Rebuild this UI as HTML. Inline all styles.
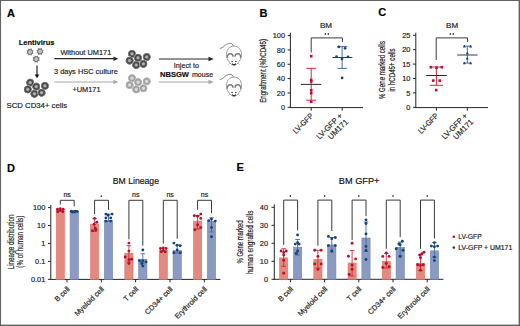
<!DOCTYPE html>
<html><head><meta charset="utf-8"><style>
html,body{margin:0;padding:0;background:#fff;}
svg{display:block;font-family:"Liberation Sans", sans-serif;}
text{stroke:currentColor;stroke-width:0.18px;paint-order:stroke;}
</style></head><body>
<svg width="520" height="326" viewBox="0 0 520 326">
<defs>
<radialGradient id="cd"><stop offset="0" stop-color="#c0c0c0"/><stop offset="0.26" stop-color="#a4a4a4"/><stop offset="0.44" stop-color="#585858"/><stop offset="0.6" stop-color="#424242"/><stop offset="0.74" stop-color="#6e6e6e"/><stop offset="0.88" stop-color="#979797"/><stop offset="1" stop-color="#fff" stop-opacity="0"/></radialGradient>
<radialGradient id="cl"><stop offset="0" stop-color="#e6e6e6"/><stop offset="0.28" stop-color="#d2d2d2"/><stop offset="0.45" stop-color="#a8a8a8"/><stop offset="0.6" stop-color="#9c9c9c"/><stop offset="0.74" stop-color="#b2b2b2"/><stop offset="0.88" stop-color="#c6c6c6"/><stop offset="1" stop-color="#fff" stop-opacity="0"/></radialGradient>
</defs>
<rect width="520" height="326" fill="#fff"/>
<rect x="0" y="0" width="520" height="1" fill="#636363"/>
<rect x="0" y="0" width="1.05" height="326" fill="#636363"/>
<rect x="518.6" y="0" width="1.4" height="326" fill="#636363"/>
<rect x="0" y="324.6" width="520" height="1.4" fill="#636363"/>
<text x="6.9" y="16.5" font-size="11" text-anchor="start" font-weight="bold" fill="#000" color="#000" >A</text>
<text x="259.5" y="16.6" font-size="11" text-anchor="start" font-weight="bold" fill="#000" color="#000" >B</text>
<text x="378.3" y="16.4" font-size="11" text-anchor="start" font-weight="bold" fill="#000" color="#000" >C</text>
<text x="7.1" y="171.7" font-size="11" text-anchor="start" font-weight="bold" fill="#000" color="#000" >D</text>
<text x="236.4" y="171" font-size="11" text-anchor="start" font-weight="bold" fill="#000" color="#000" >E</text>
<text x="18.7" y="44.6" font-size="7.4" font-weight="bold" fill="#111" color="#111" textLength="35.80" lengthAdjust="spacingAndGlyphs">Lentivirus</text>
<circle cx="32.86" cy="53.19" r="0.55" fill="#555"/>
<circle cx="31.19" cy="54.86" r="0.55" fill="#555"/>
<circle cx="28.81" cy="54.86" r="0.55" fill="#555"/>
<circle cx="27.14" cy="53.19" r="0.55" fill="#555"/>
<circle cx="27.14" cy="50.81" r="0.55" fill="#555"/>
<circle cx="28.81" cy="49.14" r="0.55" fill="#555"/>
<circle cx="31.19" cy="49.14" r="0.55" fill="#555"/>
<circle cx="32.86" cy="50.81" r="0.55" fill="#555"/>
<circle cx="30" cy="52" r="2.55" fill="#b0b0b0" stroke="#4a4a4a" stroke-width="0.7"/>
<line x1="28.9" y1="53.5" x2="30.5" y2="50.3" stroke="#dcdcdc" stroke-width="0.7"/>
<line x1="30.3" y1="53.6" x2="31.5" y2="51.1" stroke="#dcdcdc" stroke-width="0.6"/>
<circle cx="42.86" cy="52.69" r="0.55" fill="#555"/>
<circle cx="41.19" cy="54.36" r="0.55" fill="#555"/>
<circle cx="38.81" cy="54.36" r="0.55" fill="#555"/>
<circle cx="37.14" cy="52.69" r="0.55" fill="#555"/>
<circle cx="37.14" cy="50.31" r="0.55" fill="#555"/>
<circle cx="38.81" cy="48.64" r="0.55" fill="#555"/>
<circle cx="41.19" cy="48.64" r="0.55" fill="#555"/>
<circle cx="42.86" cy="50.31" r="0.55" fill="#555"/>
<circle cx="40" cy="51.5" r="2.55" fill="#b0b0b0" stroke="#4a4a4a" stroke-width="0.7"/>
<line x1="38.9" y1="53.0" x2="40.5" y2="49.8" stroke="#dcdcdc" stroke-width="0.7"/>
<line x1="40.3" y1="53.1" x2="41.5" y2="50.6" stroke="#dcdcdc" stroke-width="0.6"/>
<circle cx="39.06" cy="60.29" r="0.55" fill="#555"/>
<circle cx="37.39" cy="61.96" r="0.55" fill="#555"/>
<circle cx="35.01" cy="61.96" r="0.55" fill="#555"/>
<circle cx="33.34" cy="60.29" r="0.55" fill="#555"/>
<circle cx="33.34" cy="57.91" r="0.55" fill="#555"/>
<circle cx="35.01" cy="56.24" r="0.55" fill="#555"/>
<circle cx="37.39" cy="56.24" r="0.55" fill="#555"/>
<circle cx="39.06" cy="57.91" r="0.55" fill="#555"/>
<circle cx="36.2" cy="59.1" r="2.55" fill="#b0b0b0" stroke="#4a4a4a" stroke-width="0.7"/>
<line x1="35.1" y1="60.6" x2="36.7" y2="57.4" stroke="#dcdcdc" stroke-width="0.7"/>
<line x1="36.5" y1="60.7" x2="37.7" y2="58.2" stroke="#dcdcdc" stroke-width="0.6"/>
<line x1="37" y1="65.5" x2="37" y2="75.5" stroke="#111" stroke-width="1.1" />
<path d="M34.7,74.6 L39.3,74.6 L37,78.2 Z" fill="#111"/>
<circle cx="30.20" cy="82.60" r="4.5" fill="url(#cd)"/>
<circle cx="36.20" cy="86.60" r="4.5" fill="url(#cd)"/>
<circle cx="44.90" cy="85.80" r="4.5" fill="url(#cd)"/>
<circle cx="27.80" cy="89.40" r="4.5" fill="url(#cd)"/>
<circle cx="34.40" cy="93.80" r="4.5" fill="url(#cd)"/>
<circle cx="41.60" cy="92.70" r="4.5" fill="url(#cd)"/>
<circle cx="132.00" cy="53.80" r="4.5" fill="url(#cd)"/>
<circle cx="138.00" cy="57.80" r="4.5" fill="url(#cd)"/>
<circle cx="146.70" cy="57.00" r="4.5" fill="url(#cd)"/>
<circle cx="129.60" cy="60.60" r="4.5" fill="url(#cd)"/>
<circle cx="136.20" cy="65.00" r="4.5" fill="url(#cd)"/>
<circle cx="143.40" cy="63.90" r="4.5" fill="url(#cd)"/>
<circle cx="132.00" cy="78.20" r="4.5" fill="url(#cl)"/>
<circle cx="138.00" cy="82.20" r="4.5" fill="url(#cl)"/>
<circle cx="146.70" cy="81.40" r="4.5" fill="url(#cl)"/>
<circle cx="129.60" cy="85.00" r="4.5" fill="url(#cl)"/>
<circle cx="136.20" cy="89.40" r="4.5" fill="url(#cl)"/>
<circle cx="143.40" cy="88.30" r="4.5" fill="url(#cl)"/>
<line x1="54.3" y1="58.7" x2="114.5" y2="58.7" stroke="#262626" stroke-width="1.2" />
<path d="M113.5,56.5 L118.3,58.7 L113.5,60.9 Z" fill="#262626"/>
<line x1="54.3" y1="82" x2="114.5" y2="82" stroke="#a8a8a8" stroke-width="1.2" />
<path d="M113.5,79.8 L118.3,82 L113.5,84.2 Z" fill="#a8a8a8"/>
<text x="60.4" y="55.4" font-size="7.2" font-weight="normal" fill="#1e1e1e" color="#1e1e1e" textLength="50.90" lengthAdjust="spacingAndGlyphs">Without UM171</text>
<text x="54" y="73.8" font-size="7.2" font-weight="normal" fill="#1e1e1e" color="#1e1e1e" textLength="63.80" lengthAdjust="spacingAndGlyphs">3 days HSC culture</text>
<text x="72.4" y="91.7" font-size="7.2" font-weight="normal" fill="#1e1e1e" color="#1e1e1e" textLength="28.10" lengthAdjust="spacingAndGlyphs">+UM171</text>
<text x="6.5" y="108.1" font-size="7.2" font-weight="normal" fill="#1e1e1e" color="#1e1e1e" textLength="60.60" lengthAdjust="spacingAndGlyphs">SCD CD34+ cells</text>
<line x1="159" y1="59" x2="209.3" y2="59" stroke="#262626" stroke-width="1.2" />
<path d="M208.5,56.8 L213.8,59 L208.5,61.2 Z" fill="#262626"/>
<line x1="159" y1="82" x2="209.3" y2="82" stroke="#a8a8a8" stroke-width="1.2" />
<path d="M208.5,79.8 L213.8,82 L208.5,84.2 Z" fill="#a8a8a8"/>
<text x="173.8" y="67.8" font-size="7.2" font-weight="normal" fill="#1e1e1e" color="#1e1e1e" textLength="25.20" lengthAdjust="spacingAndGlyphs">Inject to</text>
<text x="160" y="76.9" font-size="7.2" font-weight="bold" fill="#111" color="#111" textLength="29.00" lengthAdjust="spacingAndGlyphs">NBSGW</text>
<text x="191.9" y="76.9" font-size="7.2" font-weight="normal" fill="#1e1e1e" color="#1e1e1e" textLength="21.20" lengthAdjust="spacingAndGlyphs">mouse</text>
<g transform="translate(0,0)" fill="none"><path d="M233.5,46.4 C233,44.2 231.5,43.2 229.8,43.3 C227.5,43.5 225.5,44.8 224,46.3 C222.8,47.5 221.3,48.4 219.7,48.4" stroke="#7c7c7c" stroke-width="0.9"/><path d="M234,46.1 C238.5,46.1 241.5,49.5 241.5,54.5 C241.5,57.5 240.6,59.5 239.2,61.3 C238,63.3 236.2,65.3 234,65.3 C231.8,65.3 230,63.3 228.8,61.3 C227.4,59.5 226.5,57.5 226.5,54.5 C226.5,49.5 229.5,46.1 234,46.1 Z" fill="#fff" stroke="#8a8a8a" stroke-width="0.85"/><path d="M227.3,57.8 C227.3,55.2 228.6,53.8 230.3,53.8 C232,53.8 233,55.2 233,56.8" stroke="#7a7a7a" stroke-width="1.4"/><path d="M240.7,57.8 C240.7,55.2 239.4,53.8 237.7,53.8 C236,53.8 235,55.2 235,56.8" stroke="#7a7a7a" stroke-width="1.4"/><circle cx="232.1" cy="61.4" r="0.75" fill="#333"/><circle cx="235.9" cy="61.4" r="0.75" fill="#333"/><path d="M232.2,63.6 Q234,65.8 235.8,63.6" stroke="#1a1a1a" stroke-width="1.1"/><path d="M230,63.2 L228.3,64.6 M238,63.2 L239.7,64.6" stroke="#9a9a9a" stroke-width="0.6"/></g>
<g transform="translate(0,31)" fill="none"><path d="M233.5,46.4 C233,44.2 231.5,43.2 229.8,43.3 C227.5,43.5 225.5,44.8 224,46.3 C222.8,47.5 221.3,48.4 219.7,48.4" stroke="#7c7c7c" stroke-width="0.9"/><path d="M234,46.1 C238.5,46.1 241.5,49.5 241.5,54.5 C241.5,57.5 240.6,59.5 239.2,61.3 C238,63.3 236.2,65.3 234,65.3 C231.8,65.3 230,63.3 228.8,61.3 C227.4,59.5 226.5,57.5 226.5,54.5 C226.5,49.5 229.5,46.1 234,46.1 Z" fill="#fff" stroke="#8a8a8a" stroke-width="0.85"/><path d="M227.3,57.8 C227.3,55.2 228.6,53.8 230.3,53.8 C232,53.8 233,55.2 233,56.8" stroke="#7a7a7a" stroke-width="1.4"/><path d="M240.7,57.8 C240.7,55.2 239.4,53.8 237.7,53.8 C236,53.8 235,55.2 235,56.8" stroke="#7a7a7a" stroke-width="1.4"/><circle cx="232.1" cy="61.4" r="0.75" fill="#333"/><circle cx="235.9" cy="61.4" r="0.75" fill="#333"/><path d="M232.2,63.6 Q234,65.8 235.8,63.6" stroke="#1a1a1a" stroke-width="1.1"/><path d="M230,63.2 L228.3,64.6 M238,63.2 L239.7,64.6" stroke="#9a9a9a" stroke-width="0.6"/></g>
<line x1="290.4" y1="32.6" x2="290.4" y2="108.1" stroke="#262626" stroke-width="1" />
<line x1="289.9" y1="107.6" x2="363" y2="107.6" stroke="#262626" stroke-width="1" />
<line x1="287.59999999999997" y1="107.3" x2="290.4" y2="107.3" stroke="#262626" stroke-width="1" />
<text x="285.0" y="109.89999999999999" font-size="7.4" text-anchor="end" font-weight="normal" fill="#1e1e1e" color="#1e1e1e" >0</text>
<line x1="287.59999999999997" y1="92.96" x2="290.4" y2="92.96" stroke="#262626" stroke-width="1" />
<text x="285.0" y="95.55999999999999" font-size="7.4" text-anchor="end" font-weight="normal" fill="#1e1e1e" color="#1e1e1e" >20</text>
<line x1="287.59999999999997" y1="78.62" x2="290.4" y2="78.62" stroke="#262626" stroke-width="1" />
<text x="285.0" y="81.22" font-size="7.4" text-anchor="end" font-weight="normal" fill="#1e1e1e" color="#1e1e1e" >40</text>
<line x1="287.59999999999997" y1="64.28" x2="290.4" y2="64.28" stroke="#262626" stroke-width="1" />
<text x="285.0" y="66.88" font-size="7.4" text-anchor="end" font-weight="normal" fill="#1e1e1e" color="#1e1e1e" >60</text>
<line x1="287.59999999999997" y1="49.94" x2="290.4" y2="49.94" stroke="#262626" stroke-width="1" />
<text x="285.0" y="52.54" font-size="7.4" text-anchor="end" font-weight="normal" fill="#1e1e1e" color="#1e1e1e" >80</text>
<line x1="287.59999999999997" y1="35.599999999999994" x2="290.4" y2="35.599999999999994" stroke="#262626" stroke-width="1" />
<text x="285.0" y="38.199999999999996" font-size="7.4" text-anchor="end" font-weight="normal" fill="#1e1e1e" color="#1e1e1e" >100</text>
<line x1="311.2" y1="107.6" x2="311.2" y2="110.7" stroke="#262626" stroke-width="1" />
<line x1="342.2" y1="107.6" x2="342.2" y2="110.7" stroke="#262626" stroke-width="1" />
<text transform="translate(266.3,102.8) rotate(-90)" font-size="8.3" fill="#1e1e1e" color="#1e1e1e" textLength="63.80" lengthAdjust="spacingAndGlyphs">Engraftment (%hCD45)</text>
<text x="319.9" y="28" font-size="7.3" font-weight="normal" fill="#1e1e1e" color="#1e1e1e" textLength="12.10" lengthAdjust="spacingAndGlyphs">BM</text>
<ellipse cx="325.4" cy="33.9" rx="0.8" ry="1.0" fill="#333"/><ellipse cx="328.3" cy="33.9" rx="0.8" ry="1.0" fill="#333"/>
<path d="M311.2,52.5 L311.2,37.9 L342.4,37.9 L342.4,42" fill="none" stroke="#3a3a3a" stroke-width="1"/>
<line x1="311.2" y1="68.3" x2="311.2" y2="100.2" stroke="#cf2a45" stroke-width="1" />
<line x1="306.2" y1="68.3" x2="316.1" y2="68.3" stroke="#cf2a45" stroke-width="1" />
<line x1="306.2" y1="100.2" x2="316.1" y2="100.2" stroke="#cf2a45" stroke-width="1" />
<rect x="309.90" y="54.90" width="2.6" height="2.6" fill="#bb0f2d"/>
<rect x="309.90" y="78.70" width="2.6" height="2.6" fill="#bb0f2d"/>
<rect x="309.90" y="80.20" width="2.6" height="2.6" fill="#bb0f2d"/>
<rect x="309.90" y="89.00" width="2.6" height="2.6" fill="#bb0f2d"/>
<rect x="309.90" y="91.90" width="2.6" height="2.6" fill="#bb0f2d"/>
<rect x="309.90" y="100.50" width="2.6" height="2.6" fill="#bb0f2d"/>
<line x1="300.9" y1="84.4" x2="321.3" y2="84.4" stroke="#2a2a2a" stroke-width="1" />
<line x1="342.1" y1="46.6" x2="342.1" y2="68.4" stroke="#426fa3" stroke-width="1" />
<line x1="337.4" y1="46.6" x2="347.1" y2="46.6" stroke="#426fa3" stroke-width="1" />
<line x1="337.4" y1="68.4" x2="347.1" y2="68.4" stroke="#426fa3" stroke-width="1" />
<line x1="332.4" y1="57.5" x2="352.4" y2="57.5" stroke="#2b3d5c" stroke-width="1" />
<circle cx="338.8" cy="46.9" r="1.35" fill="#1a4279"/>
<circle cx="345.1" cy="48.3" r="1.35" fill="#1a4279"/>
<circle cx="336.5" cy="56.7" r="1.35" fill="#1a4279"/>
<circle cx="342" cy="58.9" r="1.35" fill="#1a4279"/>
<circle cx="348" cy="56.8" r="1.35" fill="#1a4279"/>
<circle cx="342.1" cy="77.9" r="1.35" fill="#1a4279"/>
<text transform="translate(313.8,116.4) rotate(-45)" font-size="7.8" text-anchor="end" fill="#1e1e1e" color="#1e1e1e" textLength="25.1" lengthAdjust="spacingAndGlyphs">LV-GFP</text>
<text transform="translate(342.8,116.4) rotate(-45)" font-size="7.8" text-anchor="end" fill="#1e1e1e" color="#1e1e1e" textLength="33.0" lengthAdjust="spacingAndGlyphs">LV-GFP +</text>
<text transform="translate(348.7,122.4) rotate(-45)" font-size="7.8" text-anchor="end" fill="#1e1e1e" color="#1e1e1e" textLength="25.0" lengthAdjust="spacingAndGlyphs">UM171</text>
<line x1="415.8" y1="32.7" x2="415.8" y2="108.1" stroke="#262626" stroke-width="1" />
<line x1="415.3" y1="107.6" x2="488" y2="107.6" stroke="#262626" stroke-width="1" />
<line x1="413.0" y1="107.3" x2="415.8" y2="107.3" stroke="#262626" stroke-width="1" />
<text x="410.40000000000003" y="109.89999999999999" font-size="7.4" text-anchor="end" font-weight="normal" fill="#1e1e1e" color="#1e1e1e" >0</text>
<line x1="413.0" y1="92.9" x2="415.8" y2="92.9" stroke="#262626" stroke-width="1" />
<text x="410.40000000000003" y="95.5" font-size="7.4" text-anchor="end" font-weight="normal" fill="#1e1e1e" color="#1e1e1e" >5</text>
<line x1="413.0" y1="78.5" x2="415.8" y2="78.5" stroke="#262626" stroke-width="1" />
<text x="410.40000000000003" y="81.1" font-size="7.4" text-anchor="end" font-weight="normal" fill="#1e1e1e" color="#1e1e1e" >10</text>
<line x1="413.0" y1="64.1" x2="415.8" y2="64.1" stroke="#262626" stroke-width="1" />
<text x="410.40000000000003" y="66.69999999999999" font-size="7.4" text-anchor="end" font-weight="normal" fill="#1e1e1e" color="#1e1e1e" >15</text>
<line x1="413.0" y1="49.7" x2="415.8" y2="49.7" stroke="#262626" stroke-width="1" />
<text x="410.40000000000003" y="52.300000000000004" font-size="7.4" text-anchor="end" font-weight="normal" fill="#1e1e1e" color="#1e1e1e" >20</text>
<line x1="413.0" y1="35.3" x2="415.8" y2="35.3" stroke="#262626" stroke-width="1" />
<text x="410.40000000000003" y="37.9" font-size="7.4" text-anchor="end" font-weight="normal" fill="#1e1e1e" color="#1e1e1e" >25</text>
<line x1="436.4" y1="107.6" x2="436.4" y2="110.7" stroke="#262626" stroke-width="1" />
<line x1="467.3" y1="107.6" x2="467.3" y2="110.7" stroke="#262626" stroke-width="1" />
<text transform="translate(384.8,99) rotate(-90)" font-size="8.3" fill="#1e1e1e" color="#1e1e1e" textLength="58.00" lengthAdjust="spacingAndGlyphs">% Gene marked cells</text>
<text transform="translate(395.0,91.6) rotate(-90)" font-size="8.3" fill="#1e1e1e" color="#1e1e1e" textLength="43.20" lengthAdjust="spacingAndGlyphs">in hCD45+ cells</text>
<text x="446" y="28" font-size="7.3" font-weight="normal" fill="#1e1e1e" color="#1e1e1e" textLength="12.10" lengthAdjust="spacingAndGlyphs">BM</text>
<ellipse cx="450.4" cy="33.9" rx="0.8" ry="1.0" fill="#333"/><ellipse cx="453.3" cy="33.9" rx="0.8" ry="1.0" fill="#333"/>
<path d="M436.2,60 L436.2,37.9 L467.5,37.9 L467.5,41.8" fill="none" stroke="#3a3a3a" stroke-width="1"/>
<line x1="436.4" y1="67" x2="436.4" y2="85.3" stroke="#cf2a45" stroke-width="1" />
<line x1="429.9" y1="67" x2="443.1" y2="67" stroke="#cf2a45" stroke-width="1" />
<line x1="429.9" y1="85.3" x2="443.1" y2="85.3" stroke="#cf2a45" stroke-width="1" />
<line x1="426.2" y1="75.5" x2="446.8" y2="75.5" stroke="#2a2a2a" stroke-width="1" />
<rect x="429.60" y="65.90" width="2.6" height="2.6" fill="#bb0f2d"/>
<rect x="435.20" y="66.50" width="2.6" height="2.6" fill="#bb0f2d"/>
<rect x="440.60" y="65.90" width="2.6" height="2.6" fill="#bb0f2d"/>
<rect x="431.90" y="79.30" width="2.6" height="2.6" fill="#bb0f2d"/>
<rect x="438.40" y="79.30" width="2.6" height="2.6" fill="#bb0f2d"/>
<rect x="434.90" y="88.80" width="2.6" height="2.6" fill="#bb0f2d"/>
<line x1="467.3" y1="46.1" x2="467.3" y2="63.1" stroke="#426fa3" stroke-width="1" />
<line x1="463.2" y1="46.1" x2="471.5" y2="46.1" stroke="#426fa3" stroke-width="1" />
<line x1="463.2" y1="63.1" x2="471.5" y2="63.1" stroke="#426fa3" stroke-width="1" />
<line x1="457.2" y1="55" x2="477.6" y2="55" stroke="#2b3d5c" stroke-width="1" />
<path d="M462.90,47.40 L465.90,47.40 L464.40,44.78 Z" fill="#1a4279"/>
<path d="M469.10,47.40 L472.10,47.40 L470.60,44.78 Z" fill="#1a4279"/>
<path d="M465.80,54.20 L468.80,54.20 L467.30,51.58 Z" fill="#1a4279"/>
<path d="M465.80,59.40 L468.80,59.40 L467.30,56.78 Z" fill="#1a4279"/>
<path d="M462.90,64.20 L465.90,64.20 L464.40,61.58 Z" fill="#1a4279"/>
<path d="M469.10,64.20 L472.10,64.20 L470.60,61.58 Z" fill="#1a4279"/>
<text transform="translate(439.0,116.4) rotate(-45)" font-size="7.8" text-anchor="end" fill="#1e1e1e" color="#1e1e1e" textLength="25.1" lengthAdjust="spacingAndGlyphs">LV-GFP</text>
<text transform="translate(468.0,116.4) rotate(-45)" font-size="7.8" text-anchor="end" fill="#1e1e1e" color="#1e1e1e" textLength="33.0" lengthAdjust="spacingAndGlyphs">LV-GFP +</text>
<text transform="translate(473.9,122.4) rotate(-45)" font-size="7.8" text-anchor="end" fill="#1e1e1e" color="#1e1e1e" textLength="25.0" lengthAdjust="spacingAndGlyphs">UM171</text>
<text x="112.8" y="184.4" font-size="9.6" font-weight="normal" fill="#111" color="#111" textLength="46.20" lengthAdjust="spacingAndGlyphs">BM Lineage</text>
<line x1="50.8" y1="205" x2="50.8" y2="279.9" stroke="#262626" stroke-width="1" />
<line x1="50.3" y1="279.4" x2="220.4" y2="279.4" stroke="#262626" stroke-width="1" />
<line x1="48" y1="207.6" x2="50.8" y2="207.6" stroke="#262626" stroke-width="1" />
<text x="45.3" y="210.2" font-size="7.4" text-anchor="end" font-weight="normal" fill="#1e1e1e" color="#1e1e1e" >100</text>
<line x1="48" y1="225.53" x2="50.8" y2="225.53" stroke="#262626" stroke-width="1" />
<text x="45.3" y="228.13" font-size="7.4" text-anchor="end" font-weight="normal" fill="#1e1e1e" color="#1e1e1e" >10</text>
<line x1="48" y1="243.45999999999998" x2="50.8" y2="243.45999999999998" stroke="#262626" stroke-width="1" />
<text x="45.3" y="246.05999999999997" font-size="7.4" text-anchor="end" font-weight="normal" fill="#1e1e1e" color="#1e1e1e" >1</text>
<line x1="48" y1="261.39" x2="50.8" y2="261.39" stroke="#262626" stroke-width="1" />
<text x="45.3" y="263.99" font-size="7.4" text-anchor="end" font-weight="normal" fill="#1e1e1e" color="#1e1e1e" >0.1</text>
<line x1="48" y1="279.32" x2="50.8" y2="279.32" stroke="#262626" stroke-width="1" />
<text x="45.3" y="281.92" font-size="7.4" text-anchor="end" font-weight="normal" fill="#1e1e1e" color="#1e1e1e" >0.01</text>
<line x1="67.0" y1="279.4" x2="67.0" y2="282.4" stroke="#262626" stroke-width="1" />
<line x1="101.3" y1="279.4" x2="101.3" y2="282.4" stroke="#262626" stroke-width="1" />
<line x1="135.6" y1="279.4" x2="135.6" y2="282.4" stroke="#262626" stroke-width="1" />
<line x1="170.0" y1="279.4" x2="170.0" y2="282.4" stroke="#262626" stroke-width="1" />
<line x1="204.3" y1="279.4" x2="204.3" y2="282.4" stroke="#262626" stroke-width="1" />
<text transform="translate(14.2,269.3) rotate(-90)" font-size="8.3" fill="#1e1e1e" color="#1e1e1e" textLength="54.70" lengthAdjust="spacingAndGlyphs">Lineage distribution</text>
<text transform="translate(23.3,267.7) rotate(-90)" font-size="8.3" fill="#1e1e1e" color="#1e1e1e" textLength="52.00" lengthAdjust="spacingAndGlyphs">(% of human cells)</text>
<rect x="56.20" y="210.3" width="8.2" height="69.10" fill="#e3897d" stroke="#d7776b" stroke-width="0.6"/>
<rect x="70.10" y="211.3" width="8.2" height="68.10" fill="#8a9ac2" stroke="#7283b5" stroke-width="0.6"/>
<circle cx="57.5" cy="209.2" r="1.45" fill="#bb0f2d"/>
<circle cx="60.3" cy="208.7" r="1.45" fill="#bb0f2d"/>
<circle cx="63.1" cy="209.2" r="1.45" fill="#bb0f2d"/>
<circle cx="57.8" cy="211.8" r="1.45" fill="#bb0f2d"/>
<circle cx="60.3" cy="210.6" r="1.45" fill="#bb0f2d"/>
<circle cx="62.8" cy="211.8" r="1.45" fill="#bb0f2d"/>
<circle cx="71.4" cy="211.3" r="1.45" fill="#1a4279"/>
<circle cx="73.4" cy="211.6" r="1.45" fill="#1a4279"/>
<circle cx="75.4" cy="211.3" r="1.45" fill="#1a4279"/>
<circle cx="77.2" cy="211.5" r="1.45" fill="#1a4279"/>
<circle cx="74.2" cy="212.1" r="1.45" fill="#1a4279"/>
<circle cx="72.2" cy="212.1" r="1.45" fill="#1a4279"/>
<path d="M60.30,204.6 L60.30,200.3 L74.20,200.3 L74.20,206.3" fill="none" stroke="#3a3a3a" stroke-width="1"/>
<text x="63.4" y="196.5" font-size="7.2" font-weight="normal" fill="#1e1e1e" color="#1e1e1e" textLength="7.50" lengthAdjust="spacingAndGlyphs">ns</text>
<rect x="90.50" y="224.2" width="8.2" height="55.20" fill="#e3897d" stroke="#d7776b" stroke-width="0.6"/>
<rect x="104.40" y="220.5" width="8.2" height="58.90" fill="#8a9ac2" stroke="#7283b5" stroke-width="0.6"/>
<line x1="94.6" y1="218.4" x2="94.6" y2="231.5" stroke="#cf2a45" stroke-width="0.9" />
<line x1="92.3" y1="218.4" x2="96.89999999999999" y2="218.4" stroke="#cf2a45" stroke-width="0.9" />
<line x1="92.3" y1="231.5" x2="96.89999999999999" y2="231.5" stroke="#cf2a45" stroke-width="0.9" />
<line x1="108.5" y1="214.1" x2="108.5" y2="221.5" stroke="#426fa3" stroke-width="0.9" />
<line x1="106.2" y1="214.1" x2="110.8" y2="214.1" stroke="#426fa3" stroke-width="0.9" />
<line x1="106.2" y1="221.5" x2="110.8" y2="221.5" stroke="#426fa3" stroke-width="0.9" />
<circle cx="94.6" cy="218.4" r="1.45" fill="#bb0f2d"/>
<circle cx="96.8" cy="222.2" r="1.45" fill="#bb0f2d"/>
<circle cx="94.1" cy="224.3" r="1.45" fill="#bb0f2d"/>
<circle cx="95.2" cy="228.1" r="1.45" fill="#bb0f2d"/>
<circle cx="92.4" cy="230.8" r="1.45" fill="#bb0f2d"/>
<circle cx="95.9" cy="229.7" r="1.45" fill="#bb0f2d"/>
<circle cx="105.9" cy="214.1" r="1.45" fill="#1a4279"/>
<circle cx="112.1" cy="214.1" r="1.45" fill="#1a4279"/>
<circle cx="108.2" cy="215.2" r="1.45" fill="#1a4279"/>
<circle cx="105.9" cy="217.9" r="1.45" fill="#1a4279"/>
<circle cx="110.7" cy="217.9" r="1.45" fill="#1a4279"/>
<circle cx="105.9" cy="221.1" r="1.45" fill="#1a4279"/>
<circle cx="110.7" cy="221.1" r="1.45" fill="#1a4279"/>
<path d="M94.60,214.1 L94.60,200.3 L108.50,200.3 L108.50,209.8" fill="none" stroke="#3a3a3a" stroke-width="1"/>
<ellipse cx="101.30" cy="196.20" rx="0.75" ry="0.9" fill="#333"/>
<rect x="124.80" y="253.3" width="8.2" height="26.10" fill="#e3897d" stroke="#d7776b" stroke-width="0.6"/>
<rect x="138.70" y="259.2" width="8.2" height="20.20" fill="#8a9ac2" stroke="#7283b5" stroke-width="0.6"/>
<line x1="128.9" y1="245.7" x2="128.9" y2="262" stroke="#cf2a45" stroke-width="0.9" />
<line x1="126.60000000000001" y1="245.7" x2="131.20000000000002" y2="245.7" stroke="#cf2a45" stroke-width="0.9" />
<line x1="126.60000000000001" y1="262" x2="131.20000000000002" y2="262" stroke="#cf2a45" stroke-width="0.9" />
<line x1="142.79999999999998" y1="253.8" x2="142.79999999999998" y2="264" stroke="#426fa3" stroke-width="0.9" />
<line x1="140.49999999999997" y1="253.8" x2="145.1" y2="253.8" stroke="#426fa3" stroke-width="0.9" />
<line x1="140.49999999999997" y1="264" x2="145.1" y2="264" stroke="#426fa3" stroke-width="0.9" />
<circle cx="128.9" cy="243.1" r="1.45" fill="#bb0f2d"/>
<circle cx="128.9" cy="251.1" r="1.45" fill="#bb0f2d"/>
<circle cx="125.2" cy="257" r="1.45" fill="#bb0f2d"/>
<circle cx="131.6" cy="259.2" r="1.45" fill="#bb0f2d"/>
<circle cx="128.9" cy="259.7" r="1.45" fill="#bb0f2d"/>
<circle cx="128.9" cy="263.5" r="1.45" fill="#bb0f2d"/>
<circle cx="142.8" cy="250" r="1.45" fill="#1a4279"/>
<circle cx="139.5" cy="260.8" r="1.45" fill="#1a4279"/>
<circle cx="146.0" cy="261.9" r="1.45" fill="#1a4279"/>
<circle cx="142.8" cy="261" r="1.45" fill="#1a4279"/>
<circle cx="142.8" cy="266.1" r="1.45" fill="#1a4279"/>
<circle cx="141.8" cy="263.5" r="1.45" fill="#1a4279"/>
<path d="M128.90,239.3 L128.90,200.3 L142.80,200.3 L142.80,245.7" fill="none" stroke="#3a3a3a" stroke-width="1"/>
<text x="132.0" y="196.5" font-size="7.2" font-weight="normal" fill="#1e1e1e" color="#1e1e1e" textLength="7.50" lengthAdjust="spacingAndGlyphs">ns</text>
<rect x="159.20" y="250.6" width="8.2" height="28.80" fill="#e3897d" stroke="#d7776b" stroke-width="0.6"/>
<rect x="173.10" y="250.5" width="8.2" height="28.90" fill="#8a9ac2" stroke="#7283b5" stroke-width="0.6"/>
<line x1="177.2" y1="245.2" x2="177.2" y2="253" stroke="#426fa3" stroke-width="0.9" />
<line x1="174.89999999999998" y1="245.2" x2="179.5" y2="245.2" stroke="#426fa3" stroke-width="0.9" />
<line x1="174.89999999999998" y1="253" x2="179.5" y2="253" stroke="#426fa3" stroke-width="0.9" />
<circle cx="160.5" cy="248.5" r="1.45" fill="#bb0f2d"/>
<circle cx="163.3" cy="248" r="1.45" fill="#bb0f2d"/>
<circle cx="166.1" cy="248.5" r="1.45" fill="#bb0f2d"/>
<circle cx="161.3" cy="251.8" r="1.45" fill="#bb0f2d"/>
<circle cx="165.3" cy="251.8" r="1.45" fill="#bb0f2d"/>
<circle cx="163.3" cy="250.5" r="1.45" fill="#bb0f2d"/>
<circle cx="173.9" cy="243.1" r="1.45" fill="#1a4279"/>
<circle cx="180.3" cy="245.7" r="1.45" fill="#1a4279"/>
<circle cx="177.2" cy="245.2" r="1.45" fill="#1a4279"/>
<circle cx="173.9" cy="252.7" r="1.45" fill="#1a4279"/>
<circle cx="180.3" cy="252.7" r="1.45" fill="#1a4279"/>
<circle cx="177.2" cy="250" r="1.45" fill="#1a4279"/>
<path d="M163.30,243.6 L163.30,200.3 L177.20,200.3 L177.20,238.8" fill="none" stroke="#3a3a3a" stroke-width="1"/>
<text x="166.4" y="196.5" font-size="7.2" font-weight="normal" fill="#1e1e1e" color="#1e1e1e" textLength="7.50" lengthAdjust="spacingAndGlyphs">ns</text>
<rect x="193.50" y="221.1" width="8.2" height="58.30" fill="#e3897d" stroke="#d7776b" stroke-width="0.6"/>
<rect x="207.40" y="221.1" width="8.2" height="58.30" fill="#8a9ac2" stroke="#7283b5" stroke-width="0.6"/>
<line x1="197.60000000000002" y1="215.5" x2="197.60000000000002" y2="229" stroke="#cf2a45" stroke-width="0.9" />
<line x1="195.3" y1="215.5" x2="199.90000000000003" y2="215.5" stroke="#cf2a45" stroke-width="0.9" />
<line x1="195.3" y1="229" x2="199.90000000000003" y2="229" stroke="#cf2a45" stroke-width="0.9" />
<line x1="211.5" y1="217.9" x2="211.5" y2="232" stroke="#426fa3" stroke-width="0.9" />
<line x1="209.2" y1="217.9" x2="213.8" y2="217.9" stroke="#426fa3" stroke-width="0.9" />
<line x1="209.2" y1="232" x2="213.8" y2="232" stroke="#426fa3" stroke-width="0.9" />
<circle cx="200.8" cy="214.1" r="1.45" fill="#bb0f2d"/>
<circle cx="194.3" cy="215.7" r="1.45" fill="#bb0f2d"/>
<circle cx="197.6" cy="216.3" r="1.45" fill="#bb0f2d"/>
<circle cx="200.8" cy="218.4" r="1.45" fill="#bb0f2d"/>
<circle cx="197.6" cy="224.9" r="1.45" fill="#bb0f2d"/>
<circle cx="194.9" cy="229.7" r="1.45" fill="#bb0f2d"/>
<circle cx="200.8" cy="227.6" r="1.45" fill="#bb0f2d"/>
<circle cx="208.8" cy="220.6" r="1.45" fill="#1a4279"/>
<circle cx="211.5" cy="219" r="1.45" fill="#1a4279"/>
<circle cx="215.3" cy="221.1" r="1.45" fill="#1a4279"/>
<circle cx="211.5" cy="227.6" r="1.45" fill="#1a4279"/>
<circle cx="211.5" cy="236.7" r="1.45" fill="#1a4279"/>
<path d="M197.60,209.8 L197.60,200.3 L211.50,200.3 L211.50,213.1" fill="none" stroke="#3a3a3a" stroke-width="1"/>
<text x="200.70000000000002" y="196.5" font-size="7.2" font-weight="normal" fill="#1e1e1e" color="#1e1e1e" textLength="7.50" lengthAdjust="spacingAndGlyphs">ns</text>
<text transform="translate(70.2,289.5) rotate(-45)" font-size="7.3" text-anchor="end" fill="#1e1e1e" color="#1e1e1e">B cell</text>
<text transform="translate(104.5,289.5) rotate(-45)" font-size="7.3" text-anchor="end" fill="#1e1e1e" color="#1e1e1e">Myeloid cell</text>
<text transform="translate(138.79999999999998,289.5) rotate(-45)" font-size="7.3" text-anchor="end" fill="#1e1e1e" color="#1e1e1e">T cell</text>
<text transform="translate(173.2,289.5) rotate(-45)" font-size="7.3" text-anchor="end" fill="#1e1e1e" color="#1e1e1e">CD34+ cell</text>
<text transform="translate(207.5,289.5) rotate(-45)" font-size="7.3" text-anchor="end" fill="#1e1e1e" color="#1e1e1e">Erythroid cell</text>
<text x="338.8" y="184.3" font-size="9.6" font-weight="normal" fill="#111" color="#111" textLength="40.60" lengthAdjust="spacingAndGlyphs">BM GFP+</text>
<line x1="274.3" y1="204.3" x2="274.3" y2="279.8" stroke="#262626" stroke-width="1" />
<line x1="273.8" y1="279.3" x2="443.5" y2="279.3" stroke="#262626" stroke-width="1" />
<line x1="271.5" y1="279.3" x2="274.3" y2="279.3" stroke="#262626" stroke-width="1" />
<text x="268.0" y="281.90000000000003" font-size="7.4" text-anchor="end" font-weight="normal" fill="#1e1e1e" color="#1e1e1e" >0</text>
<line x1="271.5" y1="261.3" x2="274.3" y2="261.3" stroke="#262626" stroke-width="1" />
<text x="268.0" y="263.90000000000003" font-size="7.4" text-anchor="end" font-weight="normal" fill="#1e1e1e" color="#1e1e1e" >10</text>
<line x1="271.5" y1="243.3" x2="274.3" y2="243.3" stroke="#262626" stroke-width="1" />
<text x="268.0" y="245.9" font-size="7.4" text-anchor="end" font-weight="normal" fill="#1e1e1e" color="#1e1e1e" >20</text>
<line x1="271.5" y1="225.3" x2="274.3" y2="225.3" stroke="#262626" stroke-width="1" />
<text x="268.0" y="227.9" font-size="7.4" text-anchor="end" font-weight="normal" fill="#1e1e1e" color="#1e1e1e" >30</text>
<line x1="271.5" y1="207.3" x2="274.3" y2="207.3" stroke="#262626" stroke-width="1" />
<text x="268.0" y="209.9" font-size="7.4" text-anchor="end" font-weight="normal" fill="#1e1e1e" color="#1e1e1e" >40</text>
<line x1="290.4" y1="279.3" x2="290.4" y2="282.3" stroke="#262626" stroke-width="1" />
<line x1="324.6" y1="279.3" x2="324.6" y2="282.3" stroke="#262626" stroke-width="1" />
<line x1="358.8" y1="279.3" x2="358.8" y2="282.3" stroke="#262626" stroke-width="1" />
<line x1="393.0" y1="279.3" x2="393.0" y2="282.3" stroke="#262626" stroke-width="1" />
<line x1="427.2" y1="279.3" x2="427.2" y2="282.3" stroke="#262626" stroke-width="1" />
<text transform="translate(243.0,263.5) rotate(-90)" font-size="8.3" fill="#1e1e1e" color="#1e1e1e" textLength="43.00" lengthAdjust="spacingAndGlyphs">% Gene marked</text>
<text transform="translate(252.7,274.0) rotate(-90)" font-size="8.3" fill="#1e1e1e" color="#1e1e1e" textLength="63.40" lengthAdjust="spacingAndGlyphs">human engrafted cells</text>
<rect x="279.60" y="257.9" width="8.2" height="21.40" fill="#e3897d" stroke="#d7776b" stroke-width="0.6"/>
<rect x="293.50" y="247.2" width="8.2" height="32.10" fill="#8a9ac2" stroke="#7283b5" stroke-width="0.6"/>
<line x1="283.7" y1="248.7" x2="283.7" y2="266.3" stroke="#cf2a45" stroke-width="0.9" />
<line x1="281.4" y1="248.7" x2="286.0" y2="248.7" stroke="#cf2a45" stroke-width="0.9" />
<line x1="281.4" y1="266.3" x2="286.0" y2="266.3" stroke="#cf2a45" stroke-width="0.9" />
<line x1="297.59999999999997" y1="239.5" x2="297.59999999999997" y2="255" stroke="#426fa3" stroke-width="0.9" />
<line x1="295.29999999999995" y1="239.5" x2="299.9" y2="239.5" stroke="#426fa3" stroke-width="0.9" />
<line x1="295.29999999999995" y1="255" x2="299.9" y2="255" stroke="#426fa3" stroke-width="0.9" />
<circle cx="281.1" cy="251" r="1.45" fill="#bb0f2d"/>
<circle cx="286.3" cy="251" r="1.45" fill="#bb0f2d"/>
<circle cx="283.7" cy="252.5" r="1.45" fill="#bb0f2d"/>
<circle cx="283.7" cy="255" r="1.45" fill="#bb0f2d"/>
<circle cx="283.7" cy="260.2" r="1.45" fill="#bb0f2d"/>
<circle cx="283.7" cy="273.2" r="1.45" fill="#bb0f2d"/>
<circle cx="297.6" cy="234.9" r="1.45" fill="#1a4279"/>
<circle cx="297.6" cy="242.6" r="1.45" fill="#1a4279"/>
<circle cx="295.3" cy="244.1" r="1.45" fill="#1a4279"/>
<circle cx="299.1" cy="244.1" r="1.45" fill="#1a4279"/>
<circle cx="297.6" cy="251" r="1.45" fill="#1a4279"/>
<circle cx="296.1" cy="253.5" r="1.45" fill="#1a4279"/>
<path d="M283.70,244.9 L283.70,200.1 L297.60,200.1 L297.60,230.3" fill="none" stroke="#3a3a3a" stroke-width="1"/>
<ellipse cx="290.40" cy="196.00" rx="0.75" ry="0.9" fill="#333"/>
<rect x="313.80" y="259.4" width="8.2" height="19.90" fill="#e3897d" stroke="#d7776b" stroke-width="0.6"/>
<rect x="327.70" y="244.9" width="8.2" height="34.40" fill="#8a9ac2" stroke="#7283b5" stroke-width="0.6"/>
<line x1="317.90000000000003" y1="250.2" x2="317.90000000000003" y2="268" stroke="#cf2a45" stroke-width="0.9" />
<line x1="315.6" y1="250.2" x2="320.20000000000005" y2="250.2" stroke="#cf2a45" stroke-width="0.9" />
<line x1="315.6" y1="268" x2="320.20000000000005" y2="268" stroke="#cf2a45" stroke-width="0.9" />
<line x1="331.8" y1="237.5" x2="331.8" y2="252" stroke="#426fa3" stroke-width="0.9" />
<line x1="329.5" y1="237.5" x2="334.1" y2="237.5" stroke="#426fa3" stroke-width="0.9" />
<line x1="329.5" y1="252" x2="334.1" y2="252" stroke="#426fa3" stroke-width="0.9" />
<circle cx="314.7" cy="250.2" r="1.45" fill="#bb0f2d"/>
<circle cx="321.1" cy="250.2" r="1.45" fill="#bb0f2d"/>
<circle cx="317.9" cy="256.4" r="1.45" fill="#bb0f2d"/>
<circle cx="314.7" cy="264" r="1.45" fill="#bb0f2d"/>
<circle cx="321.1" cy="264" r="1.45" fill="#bb0f2d"/>
<circle cx="317.9" cy="269.4" r="1.45" fill="#bb0f2d"/>
<circle cx="328.4" cy="236.4" r="1.45" fill="#1a4279"/>
<circle cx="335.3" cy="237.5" r="1.45" fill="#1a4279"/>
<circle cx="331.8" cy="238.7" r="1.45" fill="#1a4279"/>
<circle cx="328.4" cy="245.6" r="1.45" fill="#1a4279"/>
<circle cx="335.3" cy="245.6" r="1.45" fill="#1a4279"/>
<circle cx="331.8" cy="251" r="1.45" fill="#1a4279"/>
<path d="M317.90,245.6 L317.90,200.1 L331.80,200.1 L331.80,231" fill="none" stroke="#3a3a3a" stroke-width="1"/>
<ellipse cx="324.60" cy="196.00" rx="0.75" ry="0.9" fill="#333"/>
<rect x="348.00" y="263" width="8.2" height="16.30" fill="#e3897d" stroke="#d7776b" stroke-width="0.6"/>
<rect x="361.90" y="238" width="8.2" height="41.30" fill="#8a9ac2" stroke="#7283b5" stroke-width="0.6"/>
<line x1="352.1" y1="250.5" x2="352.1" y2="276" stroke="#cf2a45" stroke-width="0.9" />
<line x1="349.8" y1="250.5" x2="354.40000000000003" y2="250.5" stroke="#cf2a45" stroke-width="0.9" />
<line x1="349.8" y1="276" x2="354.40000000000003" y2="276" stroke="#cf2a45" stroke-width="0.9" />
<line x1="366.0" y1="222" x2="366.0" y2="251.5" stroke="#426fa3" stroke-width="0.9" />
<line x1="363.7" y1="222" x2="368.3" y2="222" stroke="#426fa3" stroke-width="0.9" />
<line x1="363.7" y1="251.5" x2="368.3" y2="251.5" stroke="#426fa3" stroke-width="0.9" />
<circle cx="352.1" cy="243.3" r="1.45" fill="#bb0f2d"/>
<circle cx="348.4" cy="256.2" r="1.45" fill="#bb0f2d"/>
<circle cx="355.7" cy="258.9" r="1.45" fill="#bb0f2d"/>
<circle cx="352.1" cy="265.1" r="1.45" fill="#bb0f2d"/>
<circle cx="352.1" cy="269.3" r="1.45" fill="#bb0f2d"/>
<circle cx="349.2" cy="274.5" r="1.45" fill="#bb0f2d"/>
<circle cx="366.0" cy="219.9" r="1.45" fill="#1a4279"/>
<circle cx="366.0" cy="223.5" r="1.45" fill="#1a4279"/>
<circle cx="366.0" cy="233.9" r="1.45" fill="#1a4279"/>
<circle cx="366.0" cy="246.4" r="1.45" fill="#1a4279"/>
<circle cx="366.0" cy="250.5" r="1.45" fill="#1a4279"/>
<circle cx="366.0" cy="259.5" r="1.45" fill="#1a4279"/>
<path d="M352.10,240.1 L352.10,200.1 L366.00,200.1 L366.00,216.2" fill="none" stroke="#3a3a3a" stroke-width="1"/>
<ellipse cx="358.80" cy="196.00" rx="0.75" ry="0.9" fill="#333"/>
<rect x="382.20" y="261.3" width="8.2" height="18.00" fill="#e3897d" stroke="#d7776b" stroke-width="0.6"/>
<rect x="396.10" y="247.4" width="8.2" height="31.90" fill="#8a9ac2" stroke="#7283b5" stroke-width="0.6"/>
<line x1="386.3" y1="253.5" x2="386.3" y2="268" stroke="#cf2a45" stroke-width="0.9" />
<line x1="384.0" y1="253.5" x2="388.6" y2="253.5" stroke="#cf2a45" stroke-width="0.9" />
<line x1="384.0" y1="268" x2="388.6" y2="268" stroke="#cf2a45" stroke-width="0.9" />
<line x1="400.2" y1="242" x2="400.2" y2="256" stroke="#426fa3" stroke-width="0.9" />
<line x1="397.9" y1="242" x2="402.5" y2="242" stroke="#426fa3" stroke-width="0.9" />
<line x1="397.9" y1="256" x2="402.5" y2="256" stroke="#426fa3" stroke-width="0.9" />
<circle cx="386.3" cy="253" r="1.45" fill="#bb0f2d"/>
<circle cx="382.8" cy="256.4" r="1.45" fill="#bb0f2d"/>
<circle cx="389.1" cy="256.4" r="1.45" fill="#bb0f2d"/>
<circle cx="386.3" cy="263.4" r="1.45" fill="#bb0f2d"/>
<circle cx="382.8" cy="267.5" r="1.45" fill="#bb0f2d"/>
<circle cx="389.1" cy="266.8" r="1.45" fill="#bb0f2d"/>
<circle cx="402.4" cy="241.2" r="1.45" fill="#1a4279"/>
<circle cx="398.9" cy="244" r="1.45" fill="#1a4279"/>
<circle cx="400.2" cy="244.7" r="1.45" fill="#1a4279"/>
<circle cx="396.2" cy="248.8" r="1.45" fill="#1a4279"/>
<circle cx="403.1" cy="250.2" r="1.45" fill="#1a4279"/>
<circle cx="400.2" cy="256.4" r="1.45" fill="#1a4279"/>
<path d="M386.30,248.8 L386.30,200.1 L400.20,200.1 L400.20,237.1" fill="none" stroke="#3a3a3a" stroke-width="1"/>
<ellipse cx="393.00" cy="196.00" rx="0.75" ry="0.9" fill="#333"/>
<rect x="416.40" y="263.4" width="8.2" height="15.90" fill="#e3897d" stroke="#d7776b" stroke-width="0.6"/>
<rect x="430.30" y="250.9" width="8.2" height="28.40" fill="#8a9ac2" stroke="#7283b5" stroke-width="0.6"/>
<line x1="420.5" y1="255" x2="420.5" y2="270.5" stroke="#cf2a45" stroke-width="0.9" />
<line x1="418.2" y1="255" x2="422.8" y2="255" stroke="#cf2a45" stroke-width="0.9" />
<line x1="418.2" y1="270.5" x2="422.8" y2="270.5" stroke="#cf2a45" stroke-width="0.9" />
<line x1="434.4" y1="242.6" x2="434.4" y2="257" stroke="#426fa3" stroke-width="0.9" />
<line x1="432.09999999999997" y1="242.6" x2="436.7" y2="242.6" stroke="#426fa3" stroke-width="0.9" />
<line x1="432.09999999999997" y1="257" x2="436.7" y2="257" stroke="#426fa3" stroke-width="0.9" />
<circle cx="424.0" cy="252.3" r="1.45" fill="#bb0f2d"/>
<circle cx="421.9" cy="253.7" r="1.45" fill="#bb0f2d"/>
<circle cx="419.8" cy="255" r="1.45" fill="#bb0f2d"/>
<circle cx="420.5" cy="257.8" r="1.45" fill="#bb0f2d"/>
<circle cx="417.7" cy="264.7" r="1.45" fill="#bb0f2d"/>
<circle cx="423.3" cy="264.7" r="1.45" fill="#bb0f2d"/>
<circle cx="420.5" cy="265.4" r="1.45" fill="#bb0f2d"/>
<circle cx="420.5" cy="270.3" r="1.45" fill="#bb0f2d"/>
<circle cx="434.4" cy="242.6" r="1.45" fill="#1a4279"/>
<circle cx="431.4" cy="246.1" r="1.45" fill="#1a4279"/>
<circle cx="437.6" cy="246.1" r="1.45" fill="#1a4279"/>
<circle cx="434.4" cy="246.8" r="1.45" fill="#1a4279"/>
<circle cx="434.4" cy="257.1" r="1.45" fill="#1a4279"/>
<circle cx="434.4" cy="260.6" r="1.45" fill="#1a4279"/>
<path d="M420.50,248.8 L420.50,200.1 L434.40,200.1 L434.40,238.5" fill="none" stroke="#3a3a3a" stroke-width="1"/>
<ellipse cx="427.20" cy="196.00" rx="0.75" ry="0.9" fill="#333"/>
<text transform="translate(293.59999999999997,289.5) rotate(-45)" font-size="7.3" text-anchor="end" fill="#1e1e1e" color="#1e1e1e">B cell</text>
<text transform="translate(327.8,289.5) rotate(-45)" font-size="7.3" text-anchor="end" fill="#1e1e1e" color="#1e1e1e">Myeloid cell</text>
<text transform="translate(362.0,289.5) rotate(-45)" font-size="7.3" text-anchor="end" fill="#1e1e1e" color="#1e1e1e">T cell</text>
<text transform="translate(396.2,289.5) rotate(-45)" font-size="7.3" text-anchor="end" fill="#1e1e1e" color="#1e1e1e">CD34+ cell</text>
<text transform="translate(430.4,289.5) rotate(-45)" font-size="7.3" text-anchor="end" fill="#1e1e1e" color="#1e1e1e">Erythroid cell</text>
<circle cx="453.8" cy="236.7" r="1.3" fill="#bb0f2d"/>
<circle cx="453.8" cy="247.6" r="1.3" fill="#1a4279"/>
<text x="458.2" y="238.9" font-size="6.6" font-weight="normal" fill="#1e1e1e" color="#1e1e1e" textLength="23.60" lengthAdjust="spacingAndGlyphs">LV-GFP</text>
<text x="458.2" y="249.5" font-size="6.6" font-weight="normal" fill="#1e1e1e" color="#1e1e1e" textLength="54.10" lengthAdjust="spacingAndGlyphs">LV-GFP + UM171</text>
</svg>
</body></html>
